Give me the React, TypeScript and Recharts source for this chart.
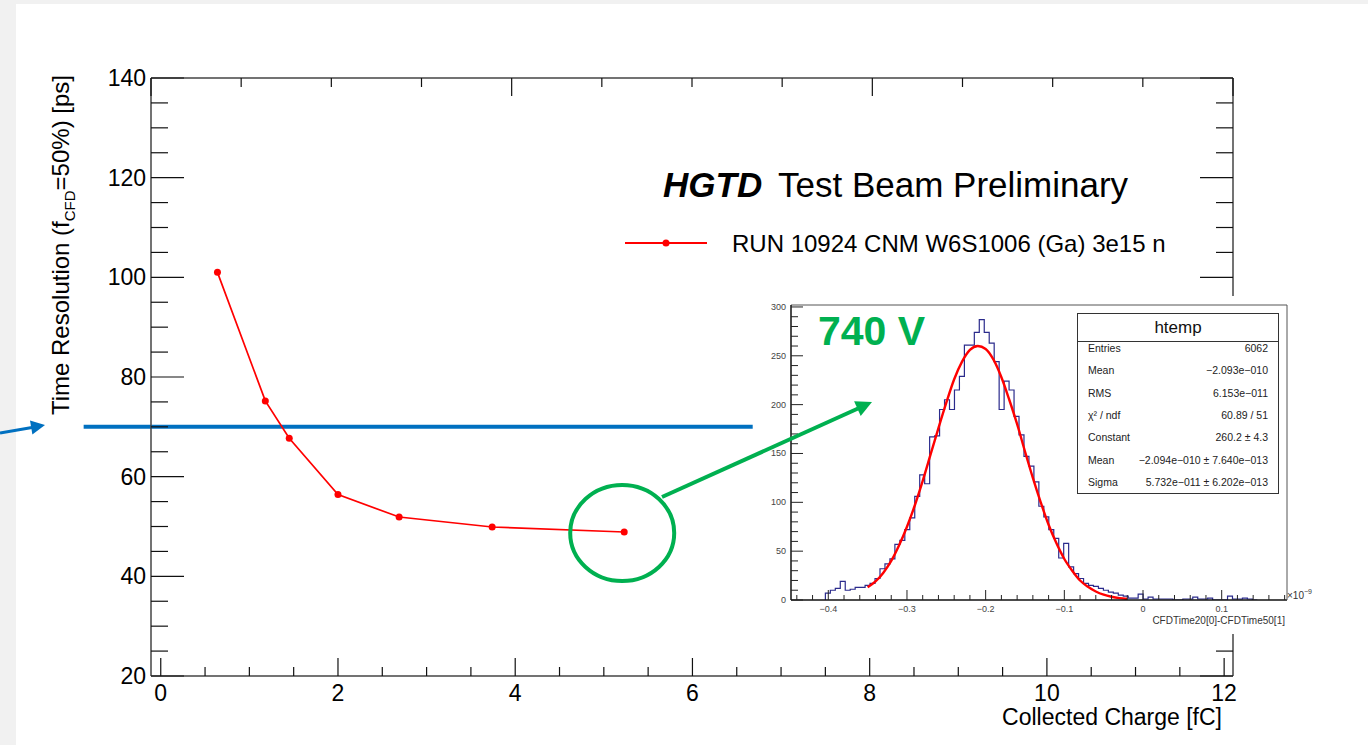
import React from 'react';
import {
  LineChart,
  ComposedChart,
  Line,
  XAxis,
  YAxis,
  ReferenceLine,
  ReferenceDot,
} from 'recharts';

const FONT = '"Liberation Sans", Arial, Helvetica, sans-serif';

// main graph: time resolution vs collected charge
const charge = [0.64, 1.18, 1.45, 2.0, 2.69, 3.74, 5.23];
const resolution = [101.0, 75.2, 67.7, 56.4, 51.9, 49.9, 48.9];
const targetResolution = 70;

const xMajorLabels = [0, 2, 4, 6, 8, 10, 12];
const yMajorLabels = [20, 40, 60, 80, 100, 120, 140];

// inset: CFD time difference histogram (x1e-9 s) and its gaussian fit
const histStart = -0.4037;
const histBinWidth = 0.00631;
const histCounts = [
  7, 10, 12, 19, 10, 11, 13, 13, 15, 17,
  22, 32, 37, 42, 57, 61, 72, 84, 106, 128,
  119, 167, 168, 195, 205, 195, 215, 229, 261, 261,
  274, 287, 274, 263, 244, 195, 224, 215, 188, 169,
  147, 137, 121, 96, 85, 72, 63, 43, 58, 34,
  27, 22, 17, 15, 14, 12, 10, 8, 7, 5,
  4, 2, 2, 6, 1, 3, 1, 1, 1, 1,
  0, 0, 1, 1, 3, 1, 1, 2, 0, 0,
  0, 4, 1, 1, 2, 1, 0,
];
const fitX = [
  -0.35, -0.34, -0.33, -0.32, -0.31, -0.3, -0.29, -0.28, -0.27, -0.26, -0.25, -0.24,
  -0.23, -0.22, -0.21, -0.2, -0.19, -0.18, -0.17, -0.16, -0.15, -0.14, -0.13, -0.12,
  -0.11, -0.1, -0.09, -0.08, -0.07, -0.06, -0.05, -0.04, -0.03, -0.02,
];
const fitY = [
  13, 19, 28, 40, 56, 75, 97, 122, 149, 176, 202, 226,
  244, 256, 260, 257, 246, 228, 205, 180, 152, 125, 100, 77,
  58, 42, 30, 20, 13.5, 8.7, 5.4, 3.3, 1.9, 1.1,
];
const insetXLabels = [-0.4, -0.3, -0.2, -0.1, 0, 0.1];
const insetYLabels = [0, 50, 100, 150, 200, 250, 300];

const statsRows = [
  ['Entries', '6062'],
  ['Mean', '\u22122.093e\u2212010'],
  ['RMS', '6.153e\u2212011'],
  ['\u03c7\u00b2 / ndf', '60.89 / 51'],
  ['Constant', '260.2 \u00b1 4.3'],
  ['Mean', '\u22122.094e\u2212010 \u00b1 7.640e\u2212013'],
  ['Sigma', '5.732e\u2212011 \u00b1 6.202e\u2212013'],
];

const steps = (from: number, to: number, step: number) => {
  const out: number[] = [];
  const n = Math.round((to - from) / step);
  for (let i = 0; i <= n; i++) out.push(Math.round((from + i * step) * 1e6) / 1e6);
  return out;
};
const isMajor = (v: number, labels: number[]) => labels.some((l) => Math.abs(l - v) < 1e-6);
const fmtInset = (v: number) => (v < 0 ? '\u2212' + Math.abs(v) : String(v));

const MainXTick = (props: any) => {
  const { x, y, payload, side, lo, hi } = props;
  // skip anything that falls outside the frame
  if (x < lo || x > hi) return <g />;
  const major = isMajor(payload.value, xMajorLabels);
  const len = major ? 18 : 9;
  const dir = side === 'top' ? 1 : -1;
  return (
    <g>
      <line x1={x} y1={y} x2={x} y2={y + dir * len} stroke="#111" strokeWidth={1.2} />
      {major && side !== 'top' && (
        <text x={x} y={y + 25} textAnchor="middle" fontSize={23} fontFamily={FONT} fill="#000">
          {payload.value}
        </text>
      )}
    </g>
  );
};

const MainYTick = (props: any) => {
  const { x, y, payload, side } = props;
  const major = isMajor(payload.value, yMajorLabels);
  const len = major ? 33 : 17;
  const dir = side === 'right' ? -1 : 1;
  return (
    <g>
      <line x1={x} y1={y} x2={x + dir * len} y2={y} stroke="#111" strokeWidth={1.2} />
      {major && side !== 'right' && (
        <text x={x - 5} y={y + 8} textAnchor="end" fontSize={23} fontFamily={FONT} fill="#000">
          {payload.value}
        </text>
      )}
    </g>
  );
};

const InsetXTick = (props: any) => {
  const { x, y, payload } = props;
  const major = isMajor(payload.value, insetXLabels);
  return (
    <g>
      <line x1={x} y1={y} x2={x} y2={y - (major ? 10 : 5)} stroke="#222" strokeWidth={1} />
      {major && (
        <text x={x} y={y + 12} textAnchor="middle" fontSize={9} fontFamily={FONT} fill="#444">
          {fmtInset(payload.value)}
        </text>
      )}
    </g>
  );
};

const InsetYTick = (props: any) => {
  const { x, y, payload } = props;
  const major = isMajor(payload.value, insetYLabels);
  return (
    <g>
      <line x1={x} y1={y} x2={x + (major ? 12 : 7)} y2={y} stroke="#222" strokeWidth={1} />
      {major && (
        <text x={x - 5} y={y + 3} textAnchor="end" fontSize={9} fontFamily={FONT} fill="#444">
          {payload.value}
        </text>
      )}
    </g>
  );
};

export default function App() {
  const mainData = charge.map((q, i) => ({ q, res: resolution[i] }));
  const histData = [
    { t: histStart, n: 0 },
    ...histCounts.map((n, i) => ({ t: histStart + i * histBinWidth, n })),
    { t: histStart + histCounts.length * histBinWidth, n: 0 },
  ];
  const fitData = fitX.map((t, i) => ({ t, n: fitY[i] }));

  const xTicks = steps(0, 12, 0.5);
  const yTicks = steps(20, 140, 5);
  const xDomain: [number, number] = [-0.11, 12.1];
  const yDomain: [number, number] = [20, 140];
  const insetXTicks = steps(-0.44, 0.18, 0.02);
  const insetYTicks = steps(0, 300, 10);
  const insetXDomain: [number, number] = [-0.4474, 0.183];
  const insetYDomain: [number, number] = [0, 302];

  const last = mainData.length - 1;

  return (
    <div style={{ position: 'absolute', left: 0, top: 0, width: 1368, height: 745, background: '#f1f1f1', overflow: 'hidden', fontFamily: FONT }}>
      <div style={{ position: 'absolute', left: 16, top: 4, width: 1352, height: 741, background: '#fff' }} />

      {/* main graph */}
      <div style={{ position: 'absolute', left: 0, top: 0 }}>
        <LineChart width={1368} height={745} data={mainData} margin={{ top: 77, right: 134, bottom: 68, left: 150 }}>
          <XAxis
            dataKey="q"
            type="number"
            domain={xDomain}
            allowDataOverflow
            ticks={xTicks}
            interval={0}
            height={1}
            tickSize={0}
            tickMargin={0}
            axisLine={{ stroke: '#444', strokeWidth: 1.5 }}
            tickLine={false}
            tick={(p: any) => <MainXTick {...p} side="bottom" lo={150} hi={1234} />}
          />
          <XAxis
            xAxisId="top"
            orientation="top"
            type="number"
            domain={xDomain}
            allowDataOverflow
            ticks={xTicks}
            interval={0}
            height={1}
            tickSize={0}
            tickMargin={0}
            axisLine={{ stroke: '#444', strokeWidth: 1.5 }}
            tickLine={false}
            tick={(p: any) => <MainXTick {...p} side="top" lo={150} hi={1234} />}
          />
          <YAxis
            type="number"
            domain={yDomain}
            allowDataOverflow
            ticks={yTicks}
            interval={0}
            width={1}
            tickSize={0}
            tickMargin={0}
            axisLine={{ stroke: '#444', strokeWidth: 1.5 }}
            tickLine={false}
            tick={(p: any) => <MainYTick {...p} side="left" />}
          />
          <YAxis
            yAxisId="right"
            orientation="right"
            type="number"
            domain={yDomain}
            allowDataOverflow
            ticks={yTicks}
            interval={0}
            width={1}
            tickSize={0}
            tickMargin={0}
            axisLine={{ stroke: '#444', strokeWidth: 1.5 }}
            tickLine={false}
            tick={(p: any) => <MainYTick {...p} side="right" />}
          />
          <ReferenceLine
            segment={[{ x: -0.87, y: targetResolution }, { x: 6.68, y: targetResolution }]}
            stroke="#0070c0"
            strokeWidth={4}
            ifOverflow="visible"
          />
          <Line
            type="linear"
            dataKey="res"
            stroke="#ff0000"
            strokeWidth={1.7}
            dot={{ r: 3.5, fill: '#ff0000', stroke: '#ff0000', strokeWidth: 0 }}
            isAnimationActive={false}
          />
          <ReferenceDot
            x={mainData[last].q}
            y={mainData[last].res}
            r={50}
            ifOverflow="visible"
            shape={(p: any) => (
              <ellipse cx={p.cx - 2} cy={p.cy + 1} rx={52} ry={48} fill="none" stroke="#00b050" strokeWidth={4} />
            )}
          />
        </LineChart>
      </div>

      {/* inset histogram */}
      <div style={{ position: 'absolute', left: 762, top: 296, width: 538, height: 338, background: '#fff' }}>
        <ComposedChart width={538} height={338} margin={{ top: 8, right: 12, bottom: 33, left: 28 }}>
          <XAxis
            dataKey="t"
            type="number"
            domain={insetXDomain}
            allowDataOverflow
            ticks={insetXTicks}
            interval={0}
            height={1}
            tickSize={0}
            tickMargin={0}
            axisLine={{ stroke: '#111', strokeWidth: 1.5 }}
            tickLine={false}
            tick={(p: any) => <InsetXTick {...p} />}
          />
          <XAxis xAxisId="top" orientation="top" type="number" domain={insetXDomain} allowDataOverflow height={1} tick={false} tickLine={false} axisLine={{ stroke: '#555', strokeWidth: 1 }} />
          <YAxis
            type="number"
            domain={insetYDomain}
            allowDataOverflow
            ticks={insetYTicks}
            interval={0}
            width={1}
            tickSize={0}
            tickMargin={0}
            axisLine={{ stroke: '#111', strokeWidth: 1.5 }}
            tickLine={false}
            tick={(p: any) => <InsetYTick {...p} />}
          />
          <YAxis yAxisId="right" orientation="right" type="number" domain={insetYDomain} allowDataOverflow width={1} tick={false} tickLine={false} axisLine={{ stroke: '#555', strokeWidth: 1 }} />
          <Line data={histData} dataKey="n" type="stepAfter" stroke="#2b2b8c" strokeWidth={1.2} dot={false} isAnimationActive={false} />
          <Line data={fitData} dataKey="n" type="monotone" stroke="#ff0000" strokeWidth={2.4} dot={false} isAnimationActive={false} />
        </ComposedChart>
      </div>

      {/* stats box */}
      <div style={{ position: 'absolute', left: 1077, top: 313, width: 200, height: 179, border: '1px solid #333', background: '#fff', color: '#222' }}>
        <div style={{ height: 27, borderBottom: '1px solid #333', textAlign: 'center', fontSize: 17, lineHeight: '27px', color: '#111' }}>htemp</div>
        {statsRows.map(([k, v], i) => (
          <div
            key={i}
            style={{ position: 'absolute', left: 10, right: 10, top: 23 + i * 22.3, height: 22, lineHeight: '22px', fontSize: 10.5, display: 'flex', justifyContent: 'space-between' }}
          >
            <span>{k}</span>
            <span>{v}</span>
          </div>
        ))}
      </div>

      {/* annotations and titles */}
      <svg width={1368} height={745} style={{ position: 'absolute', left: 0, top: 0, pointerEvents: 'none' }} fontFamily={FONT}>
        <text x={663} y={197} fontSize={35} fontWeight="bold" fontStyle="italic" fill="#000">HGTD</text>
        <text x={778} y={197} fontSize={35} fill="#000">Test Beam Preliminary</text>

        <line x1={625} y1={243} x2={707} y2={243} stroke="#ff0000" strokeWidth={2} />
        <circle cx={666} cy={243} r={3.5} fill="#ff0000" />
        <text x={732} y={252} fontSize={24} fill="#000">RUN 10924 CNM W6S1006 (Ga) 3e15 n</text>

        <text x={1222} y={725} fontSize={23} textAnchor="end" fill="#000">Collected Charge [fC]</text>
        <text transform="translate(69,75) rotate(-90)" fontSize={24} textAnchor="end" fill="#000">
          Time Resolution (f<tspan fontSize={15} dy={6}>CFD</tspan><tspan dy={-6}>=50%) [ps]</tspan>
        </text>

        <line x1={0} y1={433} x2={32} y2={427.5} stroke="#0070c0" strokeWidth={3} />
        <polygon points="45,425 32.4,434.4 30,420.6" fill="#0070c0" />

        <line x1={662} y1={497} x2={858} y2={408.5} stroke="#00b050" strokeWidth={4} />
        <polygon points="872,402 860.7,415.9 854.1,401.3" fill="#00b050" />

        <text x={818} y={345} fontSize={41} fontWeight="bold" fill="#00b050">740 V</text>

        <text x={1287} y={599} fontSize={10} fill="#333">
          {'\u00d710'}<tspan fontSize={7} dy={-5}>{'\u22129'}</tspan>
        </text>
        <text x={1285} y={624} fontSize={10} textAnchor="end" fill="#333">CFDTime20[0]-CFDTime50[1]</text>
      </svg>
    </div>
  );
}
